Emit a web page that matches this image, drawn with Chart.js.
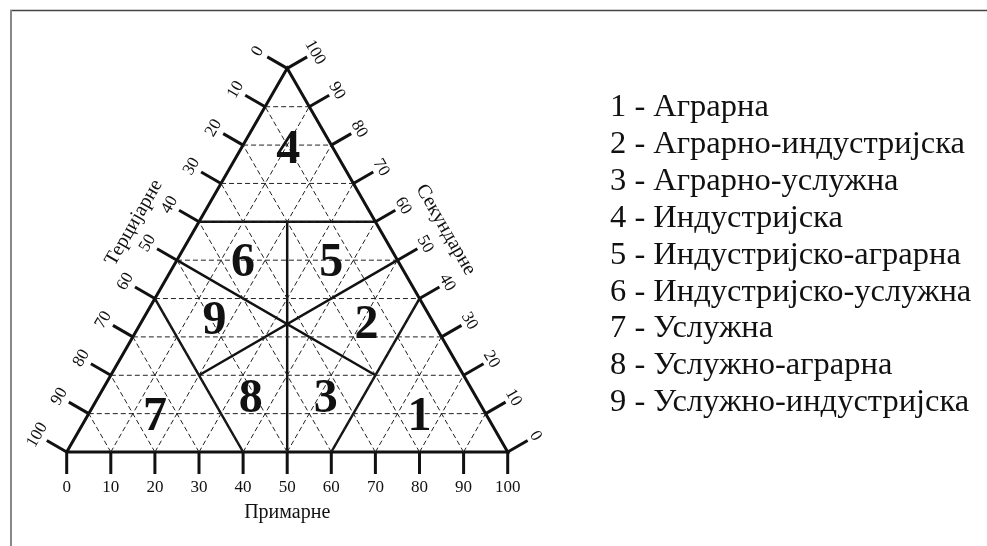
<!DOCTYPE html>
<html lang="sr">
  <head>
    <meta charset="UTF-8" />
    <title>Типови привреде</title>
    <style>
      * {
        border: none;
        padding: 0px;
        margin: 0px;
        box-sizing: border-box;
      }

      body {
        background: #fff;
      }

      #grafico {
        width: 987px;
        height: 546px;
      }
    </style>
  </head>
  <body>
    <div id="grafico">
      <canvas id="ternarni"></canvas>
    </div>

    <script src="https://cdn.jsdelivr.net/npm/chart.js"></script>
    <script>
      // podaci: p = primarne, s = sekundarne, t = tercijarne (u %)
      const primaryTicks = [0, 10, 20, 30, 40, 50, 60, 70, 80, 90, 100]
      const secondaryTicks = [0, 10, 20, 30, 40, 50, 60, 70, 80, 90, 100]
      const tertiaryTicks = [0, 10, 20, 30, 40, 50, 60, 70, 80, 90, 100]
      const gridSteps = [10, 20, 30, 40, 50, 60, 70, 80, 90]

      const axisTitles = ['Примарне', 'Секундарне', 'Терцијарне']

      // granice tipova [p, s, t] -> [p, s, t]
      const zoneBorders = [
        [[0, 60, 40], [40, 60, 0]],
        [[20, 60, 20], [50, 0, 50]],
        [[40, 0, 60], [0, 40, 60]],
        [[60, 0, 40], [60, 40, 0]],
        [[0, 50, 50], [60, 20, 20]],
        [[50, 50, 0], [20, 20, 60]]
      ]
      const outline = [[0, 0, 100], [100, 0, 0], [0, 100, 0], [0, 0, 100]]

      const zoneNumbers = ['1', '2', '3', '4', '5', '6', '7', '8', '9']
      const zoneNames = [
        'Аграрна',
        'Аграрно-индустријска',
        'Аграрно-услужна',
        'Индустријска',
        'Индустријско-аграрна',
        'Индустријско-услужна',
        'Услужна',
        'Услужно-аграрна',
        'Услужно-индустријска'
      ]
      const zoneCenters = [
        [75, 10, 15],
        [51, 34, 15],
        [51.5, 14.5, 34],
        [10.5, 79.5, 10],
        [35, 50, 15],
        [15, 50, 35],
        [15, 10, 75],
        [34.5, 14.5, 51],
        [16, 35, 49]
      ]

      const SQ3 = Math.sqrt(3) / 2
      const tern = (v) => ({ x: v[0] + v[1] / 2, y: v[1] * SQ3 })

      const datasets = []

      gridSteps.forEach(k => {
        const segs = [
          [[0, k, 100 - k], [100 - k, k, 0]],
          [[k, 0, 100 - k], [k, 100 - k, 0]],
          [[100 - k, 0, k], [0, 100 - k, k]]
        ]
        segs.forEach(sg => {
          datasets.push({
            data: sg.map(tern),
            borderColor: '#222',
            borderWidth: 1,
            borderDash: [5, 3]
          })
        })
      })

      zoneBorders.forEach(sg => {
        datasets.push({ data: sg.map(tern), borderColor: '#111', borderWidth: 2.5 })
      })

      datasets.push({ data: outline.map(tern), borderColor: '#111', borderWidth: 3 })

      const serif = '"Liberation Serif", "DejaVu Serif", serif'

      const crtez = {
        id: 'crtez',
        afterDatasetsDraw(chart) {
          const c = chart.ctx
          const sx = chart.scales.x
          const sy = chart.scales.y
          const px = (v) => {
            const q = tern(v)
            return [sx.getPixelForValue(q.x), sy.getPixelForValue(q.y)]
          }

          c.save()
          // okvir
          c.strokeStyle = '#444'
          c.lineWidth = 1.5
          c.beginPath()
          c.moveTo(10, 10.5)
          c.lineTo(987, 10.5)
          c.stroke()
          c.strokeStyle = '#888'
          c.lineWidth = 2
          c.beginPath()
          c.moveTo(11, 10)
          c.lineTo(11, 546)
          c.stroke()

          c.strokeStyle = '#111'
          c.fillStyle = '#111'
          c.lineWidth = 3
          c.font = '17px ' + serif
          c.textAlign = 'center'
          c.textBaseline = 'middle'

          // primarne (dole)
          primaryTicks.forEach(v => {
            const [x, y] = px([v, 0, 100 - v])
            c.beginPath()
            c.moveTo(x, y)
            c.lineTo(x, y + 22)
            c.stroke()
            c.fillText(String(v), x, y + 36)
          })

          const drawSide = (vals, toTern, nx, ny, ang, dist) => {
            vals.forEach(v => {
              const [x, y] = px(toTern(v))
              c.beginPath()
              c.moveTo(x, y)
              c.lineTo(x + nx * 23, y + ny * 23)
              c.stroke()
              c.save()
              c.translate(x + nx * dist, y + ny * dist)
              c.rotate(ang)
              c.fillText(String(v), 0, 0)
              c.restore()
            })
          }
          // tercijarne (leva strana), sekundarne (desna strana)
          drawSide(tertiaryTicks, v => [0, 100 - v, v], -0.866, -0.5, -Math.PI / 3, 34)
          drawSide(secondaryTicks, v => [100 - v, v, 0], 0.866, -0.5, Math.PI / 3, 32)

          // nazivi osa
          c.font = '20px ' + serif
          let [x, y] = px([50, 0, 50])
          c.fillText(axisTitles[0], x, y + 61)
          ;[x, y] = px([49.5, 50.5, 0])
          c.save()
          c.translate(x + 0.866 * 57, y - 0.5 * 57)
          c.rotate(Math.PI / 3)
          c.fillText(axisTitles[1], 0, 0)
          c.restore()
          ;[x, y] = px([0, 52.5, 47.5])
          c.save()
          c.translate(x - 0.866 * 56, y - 0.5 * 56)
          c.rotate(-Math.PI / 3)
          c.fillText(axisTitles[2], 0, 0)
          c.restore()

          // brojevi tipova
          c.font = 'bold 48px ' + serif
          c.textBaseline = 'alphabetic'
          zoneCenters.forEach((v, i) => {
            const [zx, zy] = px(v)
            c.fillText(zoneNumbers[i], zx, zy + 16)
          })

          // legenda
          c.font = '32.5px ' + serif
          c.textAlign = 'left'
          zoneNames.forEach((n, i) => {
            c.fillText(zoneNumbers[i] + ' - ' + n, 610, 116 + i * 36.9)
          })
          c.restore()
        }
      }

      const ctx = document.getElementById('ternarni')

      const kx = 4.41
      const ky = 4.43
      new Chart(ctx, {
        type: 'scatter',
        data: { datasets: datasets },
        options: {
          responsive: true,
          maintainAspectRatio: false,
          animation: false,
          showLine: true,
          elements: {
            point: { radius: 0, hoverRadius: 0 },
            line: { tension: 0, fill: false }
          },
          layout: { padding: 0 },
          plugins: {
            legend: { display: false },
            tooltip: { enabled: false }
          },
          scales: {
            x: { type: 'linear', display: false, min: -66.7 / kx, max: (987 - 66.7) / kx },
            y: { type: 'linear', display: false, min: -(546 - 452) / ky, max: 452 / ky }
          }
        },
        plugins: [crtez]
      })
    </script>
  </body>
</html>
